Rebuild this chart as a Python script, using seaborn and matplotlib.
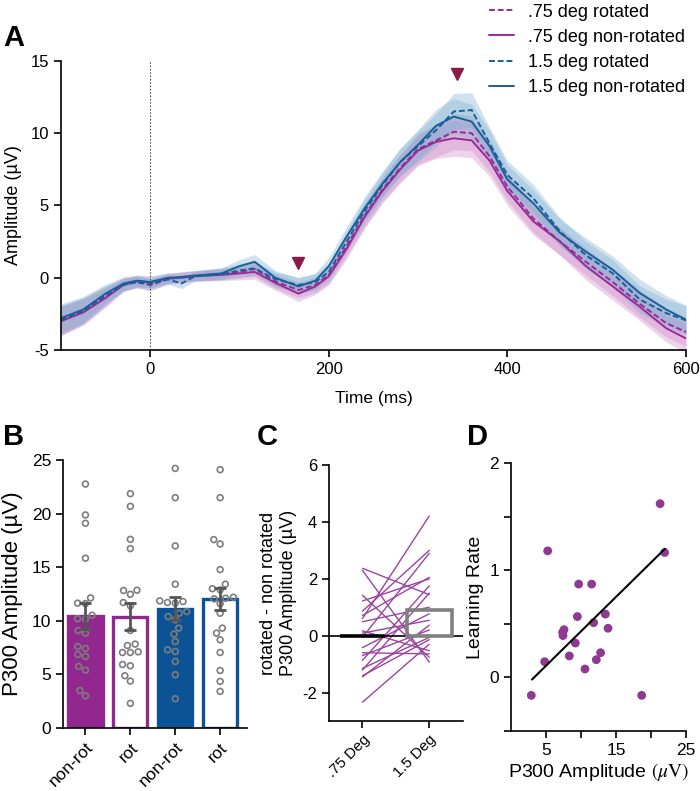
import numpy as np
import pandas as pd
import matplotlib
matplotlib.use('Agg')
import matplotlib.pyplot as plt
import seaborn as sns
from matplotlib.lines import Line2D
from matplotlib.collections import PathCollection

# ---- Panel A: grand-average ERP (uV) ----
time_ms = [-100, -75, -50, -30, -15, 0, 20, 35, 50, 80, 100, 117, 140, 166, 185,
           200, 220, 240, 260, 280, 300, 320, 340, 360, 380, 400, 429, 459, 488,
           518, 548, 578, 600]
erp_075_rot = [-3.0, -2.3, -1.3, -0.45, -0.3, -0.5, -0.1, 0.05, 0.15, 0.25, 0.4, 0.6,
               -0.25, -0.85, -0.5, 0.2, 2.2, 4.3, 6.1, 7.6, 8.9, 9.5, 10.1, 10.0, 8.4,
               6.3, 4.1, 2.5, 1.1, -0.3, -1.8, -3.15, -3.75]
erp_075_nonrot = [-3.0, -2.4, -1.4, -0.5, -0.25, -0.3, -0.05, 0.0, 0.1, 0.2, 0.3, 0.4,
                  -0.35, -1.1, -0.6, 0.1, 2.0, 4.2, 6.0, 7.5, 8.8, 9.4, 9.65, 9.5, 8.1,
                  6.0, 3.9, 2.5, 0.8, -0.6, -2.0, -3.5, -4.2]
erp_15_rot = [-2.9, -2.3, -1.2, -0.5, -0.3, -0.45, -0.1, -0.4, 0.1, 0.25, 0.5, 0.65,
              -0.1, -0.5, -0.3, 0.4, 2.5, 4.6, 6.4, 8.0, 9.1, 10.2, 11.5, 11.6, 9.3,
              7.1, 5.5, 3.2, 1.55, 0.3, -1.5, -2.45, -2.95]
erp_15_nonrot = [-2.8, -2.2, -1.1, -0.4, -0.2, -0.3, 0.0, 0.05, 0.15, 0.3, 0.8, 1.1,
                 0.0, -0.6, -0.2, 0.8, 2.85, 4.8, 6.5, 8.0, 9.2, 10.5, 11.15, 10.8, 9.1,
                 6.8, 5.15, 3.1, 1.8, 0.55, -1.05, -2.2, -2.9]
erp_sem = [1.0, 0.9, 0.65, 0.45, 0.4, 0.4, 0.35, 0.35, 0.35, 0.4, 0.45, 0.5, 0.5, 0.55,
           0.55, 0.6, 0.7, 0.8, 0.85, 0.95, 1.05, 1.15, 1.25, 1.2, 1.1, 1.0, 0.95, 0.95,
           0.95, 0.95, 0.95, 0.95, 1.0]
marker_t = [166, 344]
marker_v = [1.0, 14.1]

# ---- Panel B: P300 amplitude per condition ----
conditions = ['.75 non-rot', '.75 rot', '1.5 non-rot', '1.5 rot']
bar_labels = ['non-rot', 'rot', 'non-rot', 'rot']
bar_means = [10.45, 10.4, 11.15, 12.03]
bar_sem = [1.23, 1.25, 1.05, 1.0]
amp_075_nonrot = [22.76, 19.88, 19.1, 15.84, 12.14, 11.61, 11.65, 10.2, 10.16, 10.53,
                  8.85, 9.1, 7.6, 7.42, 6.68, 6.86, 5.75, 5.4, 3.0, 3.5]
amp_075_rot = [21.86, 20.68, 17.6, 16.74, 12.83, 12.86, 12.48, 11.4, 11.71, 9.1,
               7.7, 7.83, 7.05, 7.05, 7.11, 5.81, 5.93, 4.88, 4.38, 2.3]
amp_15_nonrot = [24.22, 21.49, 16.99, 13.42, 11.86, 11.8, 11.65, 11.71, 10.87, 10.71,
                 10.4, 9.32, 8.76, 8.07, 7.3, 7.14, 6.21, 4.97, 2.73, 10.1]
amp_15_rot = [24.1, 21.49, 17.17, 17.58, 14.78, 13.42, 12.89, 12.11, 12.2, 12.05,
              10.71, 9.32, 8.85, 8.23, 7.05, 5.37, 4.35, 3.42, 11.6, 13.0]

# ---- Panel C: rotated - non-rotated difference per subject ----
deg_labels = ['.75 Deg', '1.5 Deg']
diff_075 = [2.37, 2.3, 1.42, 1.22, 0.86, 0.71, 0.6, 0.49, 0.17, 0.09,
            -0.06, -0.42, -0.6, -0.7, -0.87, -1.15, -1.21, -1.41, -1.45, -2.34]
diff_15 = [1.44, -0.93, -0.76, 2.0, 3.0, 2.05, 4.21, 1.0, -0.53, 0.54,
           2.9, 0.77, -0.64, 0.2, 1.75, -0.06, 1.5, -0.14, 0.37, -0.3]

# ---- Panel D: learning rate vs P300 amplitude ----
amp_d = [21.3, 21.95, 5.24, 9.67, 11.52, 9.48, 13.48, 11.8, 13.86, 7.57,
         7.38, 7.43, 9.19, 4.81, 8.33, 12.8, 12.19, 10.57, 2.9, 18.67]
lr_d = [1.62, 1.165, 1.18, 0.87, 0.87, 0.567, 0.59, 0.51, 0.458, 0.445,
        0.42, 0.39, 0.32, 0.146, 0.2, 0.23, 0.165, 0.078, -0.168, -0.168]
fit_x = [3.0, 22.0]
fit_y = [-0.02, 1.2]

PURPLE = '#9B2A97'
BLUE = '#17609A'
BAR_PURPLE = '#92278F'
BAR_BLUE = '#0B5394'
DOT_PURPLE = '#8E3A93'

sns.set_theme(style='ticks')
plt.rcParams['font.family'] = ['Liberation Sans', 'DejaVu Sans']
plt.rcParams['axes.unicode_minus'] = False
plt.rcParams['mathtext.fontset'] = 'stix'
plt.rcParams['axes.linewidth'] = 1.2
plt.rcParams['xtick.major.width'] = 1.2
plt.rcParams['ytick.major.width'] = 1.2
plt.rcParams['xtick.major.size'] = 5
plt.rcParams['ytick.major.size'] = 5
plt.rcParams['axes.edgecolor'] = 'black'
plt.rcParams['xtick.color'] = 'black'
plt.rcParams['ytick.color'] = 'black'
plt.rcParams['text.color'] = 'black'
plt.rcParams['axes.labelcolor'] = 'black'

fig = plt.figure(figsize=(7, 7.91), dpi=100)
axA = fig.add_axes([0.087, 0.5575, 0.893, 0.3655])
axB = fig.add_axes([0.09, 0.0796, 0.263, 0.3388])
axC = fig.add_axes([0.47, 0.0885, 0.191, 0.3236])
axD = fig.add_axes([0.73, 0.0759, 0.25, 0.3388])

# ---- A ----
t = np.array(time_ms)
sem = np.array(erp_sem)
series = [
    ('.75 deg rotated', erp_075_rot, PURPLE, '#cf86c6', (0, (3, 1.5))),
    ('.75 deg non-rotated', erp_075_nonrot, PURPLE, '#cf86c6', '-'),
    ('1.5 deg rotated', erp_15_rot, BLUE, '#7aaccf', (0, (3, 1.5))),
    ('1.5 deg non-rotated', erp_15_nonrot, BLUE, '#7aaccf', '-'),
]
for name, vals, col, band, ls in series:
    v = np.array(vals)
    axA.fill_between(t, v - sem, v + sem, color=band, alpha=0.35, lw=0)
for name, vals, col, band, ls in series:
    sns.lineplot(x=t, y=vals, ax=axA, color=col, linestyle=ls, lw=1.4)
axA.axvline(0, color='#555555', lw=0.8, ls=(0, (1.5, 1.5)))
axA.plot(marker_t, marker_v, 'v', color='#8B1A4B', markersize=8, linestyle='none')
axA.set_xlim(-100, 600)
axA.set_ylim(-5, 15)
axA.set_xticks([0, 200, 400, 600])
axA.set_yticks([-5, 0, 5, 10, 15])
axA.tick_params(labelsize=12)
axA.set_xlabel('Time (ms)', fontsize=12.5, labelpad=10)
axA.set_ylabel('Amplitude (µV)', fontsize=13, labelpad=6)

handles = [Line2D([], [], color=col, ls=ls, lw=1.4) for _, _, col, _, ls in series]
fig.legend(handles, [s[0] for s in series], loc='upper left',
           bbox_to_anchor=(0.675, 1.016), frameon=False, fontsize=13,
           handlelength=1.4, handletextpad=0.75, labelspacing=0.45)

# ---- B ----
df_b = pd.DataFrame({'condition': conditions, 'mean': bar_means})
sns.barplot(data=df_b, x='condition', y='mean', order=conditions, color='white',
            width=0.76, errorbar=None, ax=axB)
faces = [BAR_PURPLE, 'white', BAR_BLUE, 'white']
edges = [BAR_PURPLE, BAR_PURPLE, BAR_BLUE, BAR_BLUE]
for p, fc, ec in zip(axB.patches, faces, edges):
    p.set_facecolor(fc)
    p.set_edgecolor(ec)
    p.set_linewidth(2.4)
df_pts = pd.DataFrame({
    'condition': np.repeat(conditions, 20),
    'amp': amp_075_nonrot + amp_075_rot + amp_15_nonrot + amp_15_rot,
})
sns.swarmplot(data=df_pts, x='condition', y='amp', order=conditions, size=4.2,
              color='white', edgecolor='#7d7d7d', linewidth=1.2, ax=axB, zorder=4)
for c in axB.collections:
    if isinstance(c, PathCollection):
        c.set_facecolor('none')
        c.set_edgecolor('#7d7d7d')
axB.errorbar(range(len(conditions)), bar_means, yerr=bar_sem, fmt='none',
             ecolor='#555555', elinewidth=2, capsize=4, capthick=2, zorder=5)
axB.set_ylim(0, 25)
axB.set_yticks([0, 5, 10, 15, 20, 25])
axB.set_xlim(-0.5, 3.6)
axB.set_xticks(range(4))
axB.set_xticklabels(bar_labels, rotation=45, ha='right', rotation_mode='anchor')
axB.tick_params(labelsize=12.5)
axB.set_xlabel('')
axB.set_ylabel('P300 Amplitude (µV)', fontsize=16, labelpad=6)

# ---- C ----
df_c = pd.DataFrame({
    'subject': list(range(20)) * 2,
    'deg': [deg_labels[0]] * 20 + [deg_labels[1]] * 20,
    'pos': [0] * 20 + [1] * 20,
    'diff': diff_075 + diff_15,
})
sns.barplot(data=df_c, x='deg', y='diff', order=deg_labels, color='white',
            width=0.68, errorbar=None, ax=axC)
for p, ec in zip(axC.patches, ['black', '#808080']):
    p.set_facecolor('none')
    p.set_edgecolor(ec)
    p.set_linewidth(2.6)
    p.set_zorder(4)
sns.lineplot(data=df_c, x='pos', y='diff', units='subject', estimator=None,
             color='#9A45A0', lw=1.0, ax=axC, zorder=2)
axC.axhline(0, color='black', lw=1.2, zorder=3)
axC.set_ylim(-3, 6)
axC.set_yticks([-2, 0, 2, 4, 6])
axC.set_xlim(-0.5, 1.5)
axC.set_xticks([0, 1])
axC.set_xticklabels(deg_labels, rotation=45, ha='right', rotation_mode='anchor',
                    fontsize=11)
axC.tick_params(axis='y', labelsize=12)
axC.set_xlabel('')
axC.set_ylabel('rotated - non rotated\nP300 Amplitude (µV)', fontsize=13, labelpad=4)

# ---- D ----
sns.scatterplot(x=amp_d, y=lr_d, color=DOT_PURPLE, s=40, edgecolor='none', ax=axD)
sns.lineplot(x=fit_x, y=fit_y, color='black', lw=1.5, ax=axD)
axD.set_xlim(0, 25)
axD.set_ylim(-0.5, 2)
axD.set_xticks([5, 10, 15, 20, 25])
axD.set_xticklabels(['5', '', '15', '', '25'])
axD.set_yticks([-0.5, 0, 0.5, 1, 1.5, 2])
axD.set_yticklabels(['', '0', '', '1', '', '2'])
axD.tick_params(labelsize=12.5)
axD.set_xlabel(r'P300 Amplitude $(\mu\mathrm{V})$', fontsize=14, labelpad=2)
axD.set_ylabel('Learning Rate', fontsize=14, labelpad=4)

for ax in (axA, axB, axC, axD):
    sns.despine(ax=ax)

for lab, x, y in [('A', 0.004, 0.952), ('B', 0.004, 0.447), ('C', 0.367, 0.447),
                  ('D', 0.667, 0.447)]:
    fig.text(x, y, lab, fontsize=21, fontweight='bold', va='center', ha='left')

fig.savefig('out.png', dpi=100)
